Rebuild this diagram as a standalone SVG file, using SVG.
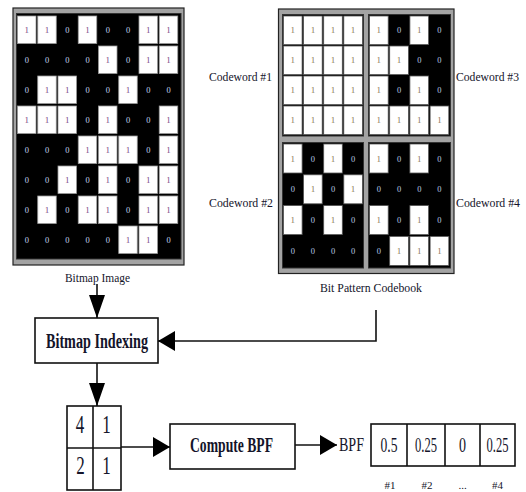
<svg xmlns="http://www.w3.org/2000/svg" width="526" height="492" viewBox="0 0 526 492">
<style>
text{font-family:"Liberation Serif","Times New Roman",serif;fill:#14142a}
.frame{fill:#a3a3a3;stroke:#222;stroke-width:1.2}
.inner{fill:#000;stroke:#333;stroke-width:1}
.bw{fill:#fff;stroke:#9a9a9a;stroke-width:0.8}
.cw{fill:#fff;stroke:#555;stroke-width:0.8}
.b1{font-size:9px;fill:#7a4a86;text-anchor:middle}
.b0{font-size:8.5px;fill:#c4d6ee;text-anchor:middle}
.c1{font-size:9px;fill:#8c7a5a;text-anchor:middle}
.c0{font-size:8.5px;fill:#b9cbe0;text-anchor:middle}
.lbl{font-size:13px}
.box{fill:#fff;stroke:#111;stroke-width:1.6}
.bold{font-weight:bold;font-size:20px}
.big{font-size:26px;text-anchor:middle}
.val{font-size:22px;text-anchor:middle}
.idx{font-size:11px;text-anchor:middle}
.conn{fill:none;stroke:#111;stroke-width:1.6}
</style>
<defs>
<marker id="av" markerUnits="userSpaceOnUse" markerWidth="23" markerHeight="16" refX="23" refY="8" orient="auto"><path d="M0,0 L23,8 L0,16 Z" fill="#000"/></marker>
<marker id="ah" markerUnits="userSpaceOnUse" markerWidth="17" markerHeight="20" refX="17" refY="10" orient="auto"><path d="M0,0 L17,10 L0,20 Z" fill="#000"/></marker>
</defs>
<rect width="526" height="492" fill="#fff"/>

<g id="bitmap-image">
<rect class="frame" x="13" y="8" width="171" height="257"/>
<rect class="inner" x="16.5" y="13.5" width="164.5" height="245.5"/>
<!-- row 0: 1 1 0 1 0 0 1 1 -->
<rect class="bw" x="17.5" y="16" width="18.5" height="27.5"/><text class="b1" x="26.75" y="33">1</text>
<rect class="bw" x="37.75" y="16" width="18.5" height="27.5"/><text class="b1" x="47" y="33">1</text>
<text class="b0" x="67.25" y="33">0</text>
<rect class="bw" x="78.25" y="16" width="18.5" height="27.5"/><text class="b1" x="87.5" y="33">1</text>
<text class="b0" x="107.75" y="33">0</text>
<text class="b0" x="128" y="33">0</text>
<rect class="bw" x="139" y="16" width="18.5" height="27.5"/><text class="b1" x="148.25" y="33">1</text>
<rect class="bw" x="159.25" y="16" width="18.5" height="27.5"/><text class="b1" x="168.5" y="33">1</text>
<!-- row 1: 0 0 0 0 1 0 1 1 -->
<text class="b0" x="26.75" y="63">0</text>
<text class="b0" x="47" y="63">0</text>
<text class="b0" x="67.25" y="63">0</text>
<text class="b0" x="87.5" y="63">0</text>
<rect class="bw" x="98.5" y="46" width="18.5" height="27.5"/><text class="b1" x="107.75" y="63">1</text>
<text class="b0" x="128" y="63">0</text>
<rect class="bw" x="139" y="46" width="18.5" height="27.5"/><text class="b1" x="148.25" y="63">1</text>
<rect class="bw" x="159.25" y="46" width="18.5" height="27.5"/><text class="b1" x="168.5" y="63">1</text>
<!-- row 2: 0 1 1 0 0 1 0 0 -->
<text class="b0" x="26.75" y="93">0</text>
<rect class="bw" x="37.75" y="76" width="18.5" height="27.5"/><text class="b1" x="47" y="93">1</text>
<rect class="bw" x="58" y="76" width="18.5" height="27.5"/><text class="b1" x="67.25" y="93">1</text>
<text class="b0" x="87.5" y="93">0</text>
<text class="b0" x="107.75" y="93">0</text>
<rect class="bw" x="118.75" y="76" width="18.5" height="27.5"/><text class="b1" x="128" y="93">1</text>
<text class="b0" x="148.25" y="93">0</text>
<text class="b0" x="168.5" y="93">0</text>
<!-- row 3: 1 1 1 0 1 0 0 1 -->
<rect class="bw" x="17.5" y="106" width="18.5" height="27.5"/><text class="b1" x="26.75" y="123">1</text>
<rect class="bw" x="37.75" y="106" width="18.5" height="27.5"/><text class="b1" x="47" y="123">1</text>
<rect class="bw" x="58" y="106" width="18.5" height="27.5"/><text class="b1" x="67.25" y="123">1</text>
<text class="b0" x="87.5" y="123">0</text>
<rect class="bw" x="98.5" y="106" width="18.5" height="27.5"/><text class="b1" x="107.75" y="123">1</text>
<text class="b0" x="128" y="123">0</text>
<text class="b0" x="148.25" y="123">0</text>
<rect class="bw" x="159.25" y="106" width="18.5" height="27.5"/><text class="b1" x="168.5" y="123">1</text>
<!-- row 4: 0 0 0 1 1 1 0 1 -->
<text class="b0" x="26.75" y="153">0</text>
<text class="b0" x="47" y="153">0</text>
<text class="b0" x="67.25" y="153">0</text>
<rect class="bw" x="78.25" y="136" width="18.5" height="27.5"/><text class="b1" x="87.5" y="153">1</text>
<rect class="bw" x="98.5" y="136" width="18.5" height="27.5"/><text class="b1" x="107.75" y="153">1</text>
<rect class="bw" x="118.75" y="136" width="18.5" height="27.5"/><text class="b1" x="128" y="153">1</text>
<text class="b0" x="148.25" y="153">0</text>
<rect class="bw" x="159.25" y="136" width="18.5" height="27.5"/><text class="b1" x="168.5" y="153">1</text>
<!-- row 5: 0 0 1 0 1 0 1 1 -->
<text class="b0" x="26.75" y="183">0</text>
<text class="b0" x="47" y="183">0</text>
<rect class="bw" x="58" y="166" width="18.5" height="27.5"/><text class="b1" x="67.25" y="183">1</text>
<text class="b0" x="87.5" y="183">0</text>
<rect class="bw" x="98.5" y="166" width="18.5" height="27.5"/><text class="b1" x="107.75" y="183">1</text>
<text class="b0" x="128" y="183">0</text>
<rect class="bw" x="139" y="166" width="18.5" height="27.5"/><text class="b1" x="148.25" y="183">1</text>
<rect class="bw" x="159.25" y="166" width="18.5" height="27.5"/><text class="b1" x="168.5" y="183">1</text>
<!-- row 6: 0 1 0 1 1 0 1 1 -->
<text class="b0" x="26.75" y="213">0</text>
<rect class="bw" x="37.75" y="196" width="18.5" height="27.5"/><text class="b1" x="47" y="213">1</text>
<text class="b0" x="67.25" y="213">0</text>
<rect class="bw" x="78.25" y="196" width="18.5" height="27.5"/><text class="b1" x="87.5" y="213">1</text>
<rect class="bw" x="98.5" y="196" width="18.5" height="27.5"/><text class="b1" x="107.75" y="213">1</text>
<text class="b0" x="128" y="213">0</text>
<rect class="bw" x="139" y="196" width="18.5" height="27.5"/><text class="b1" x="148.25" y="213">1</text>
<rect class="bw" x="159.25" y="196" width="18.5" height="27.5"/><text class="b1" x="168.5" y="213">1</text>
<!-- row 7: 0 0 0 0 0 1 1 0 -->
<text class="b0" x="26.75" y="243">0</text>
<text class="b0" x="47" y="243">0</text>
<text class="b0" x="67.25" y="243">0</text>
<text class="b0" x="87.5" y="243">0</text>
<text class="b0" x="107.75" y="243">0</text>
<rect class="bw" x="118.75" y="226" width="18.5" height="27.5"/><text class="b1" x="128" y="243">1</text>
<rect class="bw" x="139" y="226" width="18.5" height="27.5"/><text class="b1" x="148.25" y="243">1</text>
<text class="b0" x="168.5" y="243">0</text>
<text x="97.5" y="282" font-size="12.5" text-anchor="middle" textLength="65" lengthAdjust="spacingAndGlyphs">Bitmap Image</text>
</g>

<g id="codebook">
<rect class="frame" x="278.5" y="9" width="175.5" height="264.5"/>
<rect class="inner" x="282.5" y="14.5" width="81" height="121.5"/>
<rect class="inner" x="368.5" y="14.5" width="82" height="121.5"/>
<rect class="inner" x="282.5" y="142.5" width="81" height="125.5"/>
<rect class="inner" x="368.5" y="142.5" width="82" height="125.5"/>
<!-- CW1: all ones -->
<rect class="cw" x="283.5" y="16" width="18.6" height="28.6"/><text class="c1" x="292.8" y="33.3">1</text>
<rect class="cw" x="303.6" y="16" width="18.6" height="28.6"/><text class="c1" x="312.9" y="33.3">1</text>
<rect class="cw" x="323.7" y="16" width="18.6" height="28.6"/><text class="c1" x="333" y="33.3">1</text>
<rect class="cw" x="343.8" y="16" width="18.6" height="28.6"/><text class="c1" x="353.1" y="33.3">1</text>
<rect class="cw" x="283.5" y="46" width="18.6" height="28.6"/><text class="c1" x="292.8" y="63.3">1</text>
<rect class="cw" x="303.6" y="46" width="18.6" height="28.6"/><text class="c1" x="312.9" y="63.3">1</text>
<rect class="cw" x="323.7" y="46" width="18.6" height="28.6"/><text class="c1" x="333" y="63.3">1</text>
<rect class="cw" x="343.8" y="46" width="18.6" height="28.6"/><text class="c1" x="353.1" y="63.3">1</text>
<rect class="cw" x="283.5" y="76" width="18.6" height="28.6"/><text class="c1" x="292.8" y="93.3">1</text>
<rect class="cw" x="303.6" y="76" width="18.6" height="28.6"/><text class="c1" x="312.9" y="93.3">1</text>
<rect class="cw" x="323.7" y="76" width="18.6" height="28.6"/><text class="c1" x="333" y="93.3">1</text>
<rect class="cw" x="343.8" y="76" width="18.6" height="28.6"/><text class="c1" x="353.1" y="93.3">1</text>
<rect class="cw" x="283.5" y="106" width="18.6" height="28.6"/><text class="c1" x="292.8" y="123.3">1</text>
<rect class="cw" x="303.6" y="106" width="18.6" height="28.6"/><text class="c1" x="312.9" y="123.3">1</text>
<rect class="cw" x="323.7" y="106" width="18.6" height="28.6"/><text class="c1" x="333" y="123.3">1</text>
<rect class="cw" x="343.8" y="106" width="18.6" height="28.6"/><text class="c1" x="353.1" y="123.3">1</text>
<!-- CW3 -->
<rect class="cw" x="369.5" y="16" width="18.7" height="28.6"/><text class="c1" x="378.85" y="33.3">1</text>
<text class="c0" x="399.05" y="33.3">0</text>
<rect class="cw" x="409.9" y="16" width="18.7" height="28.6"/><text class="c1" x="419.25" y="33.3">1</text>
<text class="c0" x="439.45" y="33.3">0</text>
<rect class="cw" x="369.5" y="46" width="18.7" height="28.6"/><text class="c1" x="378.85" y="63.3">1</text>
<rect class="cw" x="389.7" y="46" width="18.7" height="28.6"/><text class="c1" x="399.05" y="63.3">1</text>
<text class="c0" x="419.25" y="63.3">0</text>
<text class="c0" x="439.45" y="63.3">0</text>
<rect class="cw" x="369.5" y="76" width="18.7" height="28.6"/><text class="c1" x="378.85" y="93.3">1</text>
<text class="c0" x="399.05" y="93.3">0</text>
<rect class="cw" x="409.9" y="76" width="18.7" height="28.6"/><text class="c1" x="419.25" y="93.3">1</text>
<text class="c0" x="439.45" y="93.3">0</text>
<rect class="cw" x="369.5" y="106" width="18.7" height="28.6"/><text class="c1" x="378.85" y="123.3">1</text>
<rect class="cw" x="389.7" y="106" width="18.7" height="28.6"/><text class="c1" x="399.05" y="123.3">1</text>
<rect class="cw" x="409.9" y="106" width="18.7" height="28.6"/><text class="c1" x="419.25" y="123.3">1</text>
<rect class="cw" x="430.1" y="106" width="18.7" height="28.6"/><text class="c1" x="439.45" y="123.3">1</text>
<!-- CW2 -->
<rect class="cw" x="283.5" y="144" width="18.6" height="29"/><text class="c1" x="292.8" y="161.5">1</text>
<text class="c0" x="312.9" y="161.5">0</text>
<rect class="cw" x="323.7" y="144" width="18.6" height="29"/><text class="c1" x="333" y="161.5">1</text>
<text class="c0" x="353.1" y="161.5">0</text>
<text class="c0" x="292.8" y="192.3">0</text>
<rect class="cw" x="303.6" y="174.8" width="18.6" height="29"/><text class="c1" x="312.9" y="192.3">1</text>
<text class="c0" x="333" y="192.3">0</text>
<rect class="cw" x="343.8" y="174.8" width="18.6" height="29"/><text class="c1" x="353.1" y="192.3">1</text>
<rect class="cw" x="283.5" y="205.6" width="18.6" height="29"/><text class="c1" x="292.8" y="223.1">1</text>
<text class="c0" x="312.9" y="223.1">0</text>
<rect class="cw" x="323.7" y="205.6" width="18.6" height="29"/><text class="c1" x="333" y="223.1">1</text>
<text class="c0" x="353.1" y="223.1">0</text>
<text class="c0" x="292.8" y="253.9">0</text>
<text class="c0" x="312.9" y="253.9">0</text>
<text class="c0" x="333" y="253.9">0</text>
<text class="c0" x="353.1" y="253.9">0</text>
<!-- CW4 -->
<rect class="cw" x="369.5" y="144" width="18.7" height="29"/><text class="c1" x="378.85" y="161.5">1</text>
<text class="c0" x="399.05" y="161.5">0</text>
<rect class="cw" x="409.9" y="144" width="18.7" height="29"/><text class="c1" x="419.25" y="161.5">1</text>
<text class="c0" x="439.45" y="161.5">0</text>
<text class="c0" x="378.85" y="192.3">0</text>
<text class="c0" x="399.05" y="192.3">0</text>
<text class="c0" x="419.25" y="192.3">0</text>
<text class="c0" x="439.45" y="192.3">0</text>
<rect class="cw" x="369.5" y="205.6" width="18.7" height="29"/><text class="c1" x="378.85" y="223.1">1</text>
<text class="c0" x="399.05" y="223.1">0</text>
<rect class="cw" x="409.9" y="205.6" width="18.7" height="29"/><text class="c1" x="419.25" y="223.1">1</text>
<text class="c0" x="439.45" y="223.1">0</text>
<text class="c0" x="378.85" y="253.9">0</text>
<rect class="cw" x="389.7" y="236.4" width="18.7" height="29"/><text class="c1" x="399.05" y="253.9">1</text>
<rect class="cw" x="409.9" y="236.4" width="18.7" height="29"/><text class="c1" x="419.25" y="253.9">1</text>
<rect class="cw" x="430.1" y="236.4" width="18.7" height="29"/><text class="c1" x="439.45" y="253.9">1</text>
<text class="lbl" x="209" y="81" textLength="63" lengthAdjust="spacingAndGlyphs">Codeword #1</text>
<text class="lbl" x="456" y="81" textLength="63" lengthAdjust="spacingAndGlyphs">Codeword #3</text>
<text class="lbl" x="209" y="207" textLength="64" lengthAdjust="spacingAndGlyphs">Codeword #2</text>
<text class="lbl" x="456" y="207" textLength="64" lengthAdjust="spacingAndGlyphs">Codeword #4</text>
<text x="371" y="292" font-size="13.5" text-anchor="middle" textLength="102" lengthAdjust="spacingAndGlyphs">Bit Pattern Codebook</text>
</g>

<g id="bitmap-indexing">
<rect class="box" x="35" y="318" width="123" height="45"/>
<text class="bold" x="97" y="348" font-size="19" text-anchor="middle" textLength="102" lengthAdjust="spacingAndGlyphs">Bitmap Indexing</text>
</g>

<g id="index-grid">
<rect class="box" x="67" y="406" width="54" height="84"/>
<line x1="93" y1="406" x2="93" y2="490" stroke="#111" stroke-width="1.6"/>
<line x1="67" y1="448" x2="121" y2="448" stroke="#111" stroke-width="1.6"/>
<text class="big" x="80" y="433" textLength="8.5" lengthAdjust="spacingAndGlyphs">4</text>
<text class="big" x="106.5" y="433" textLength="8.5" lengthAdjust="spacingAndGlyphs">1</text>
<text class="big" x="80.5" y="474" textLength="8.5" lengthAdjust="spacingAndGlyphs">2</text>
<text class="big" x="106.5" y="474" textLength="8.5" lengthAdjust="spacingAndGlyphs">1</text>
</g>

<g id="compute-bpf">
<rect class="box" x="170" y="424" width="125" height="45"/>
<text class="bold" x="231.5" y="452" text-anchor="middle" textLength="83" lengthAdjust="spacingAndGlyphs">Compute BPF</text>
</g>

<g id="bpf-vector">
<text x="339" y="451" font-size="18" textLength="25" lengthAdjust="spacingAndGlyphs">BPF</text>
<rect class="box" x="371" y="424" width="144" height="42"/>
<line x1="407" y1="424" x2="407" y2="466" stroke="#111" stroke-width="1.6"/>
<line x1="445" y1="424" x2="445" y2="466" stroke="#111" stroke-width="1.6"/>
<line x1="480" y1="424" x2="480" y2="466" stroke="#111" stroke-width="1.6"/>
<text class="val" x="389" y="452" textLength="17" lengthAdjust="spacingAndGlyphs">0.5</text>
<text class="val" x="426" y="452" textLength="22" lengthAdjust="spacingAndGlyphs">0.25</text>
<text class="val" x="462.5" y="452" textLength="7" lengthAdjust="spacingAndGlyphs">0</text>
<text class="val" x="497.5" y="452" textLength="22" lengthAdjust="spacingAndGlyphs">0.25</text>
<text class="idx" x="390" y="489">#1</text>
<text class="idx" x="427" y="489">#2</text>
<text class="idx" x="462.5" y="489">...</text>
<text class="idx" x="497.5" y="489">#4</text>
</g>

<g id="connectors">
<path class="conn" d="M97,284 L97,318" marker-end="url(#av)"/>
<path class="conn" d="M376,310 L376,341 L158,341" marker-end="url(#ah)"/>
<path class="conn" d="M97,363 L97,406" marker-end="url(#av)"/>
<path class="conn" d="M121,447 L170,447" marker-end="url(#ah)"/>
<path class="conn" d="M295,445 L337,445" marker-end="url(#ah)"/>
</g>
</svg>
